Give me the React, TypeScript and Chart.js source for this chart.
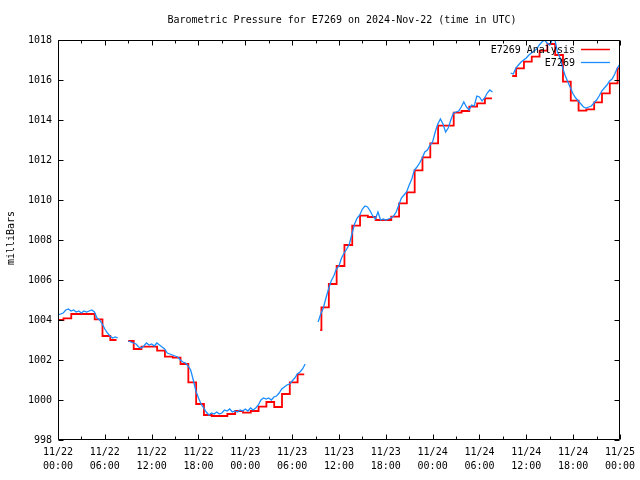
import React, { useEffect, useRef } from "react";
import { Chart, registerables } from "chart.js";

Chart.register(...registerables);

const TITLE = "Barometric Pressure for E7269 on 2024-Nov-22 (time in UTC)";
const Y_TITLE = "milliBars";
const ANALYSIS_LABEL = "E7269 Analysis";
const STATION_LABEL = "E7269";

const Y_MIN = 998;
const Y_MAX = 1018;
const Y_STEP = 2;
const X_MIN = 0; // hours since 2024-11-22 00:00 UTC
const X_MAX = 72;
const X_STEP = 6;
const X_TICK_LABELS: string[][] = [
  ["11/22", "00:00"], ["11/22", "06:00"], ["11/22", "12:00"], ["11/22", "18:00"],
  ["11/23", "00:00"], ["11/23", "06:00"], ["11/23", "12:00"], ["11/23", "18:00"],
  ["11/24", "00:00"], ["11/24", "06:00"], ["11/24", "12:00"], ["11/24", "18:00"],
  ["11/25", "00:00"],
];

// Analysis (hourly step values); null marks a gap in the record
const analysisHours = [
  0, 0.7, 1.7, 2.7, 3.7, 4.7, 5.7, 6.7, 7.5,
  8.3,
  9.0, 9.7, 10.7, 11.7, 12.7, 13.7, 14.7, 15.7, 16.7, 17.7, 18.7, 19.7, 20.7, 21.7, 22.7, 23.7, 24.7, 25.7, 26.7, 27.7, 28.7, 29.7, 30.7, 31.55,
  32.5,
  33.6, 33.75, 34.7, 35.7, 36.7, 37.7, 38.7, 39.7, 40.7, 41.7, 42.7, 43.7, 44.7, 45.7, 46.7, 47.7, 48.7, 49.7, 50.7, 51.7, 52.7, 53.7, 54.7, 55.6,
  57.0,
  58.2, 58.7, 59.7, 60.7, 61.7, 62.7, 63.7, 64.7, 65.7, 66.7, 67.7, 68.7, 69.7, 70.7, 71.7, 72.0,
];
const analysisValues: (number | null)[] = [
  1004.0, 1004.08, 1004.3, 1004.3, 1004.3, 1004.03, 1003.2, 1003.0, 1003.0,
  null,
  1002.95, 1002.55, 1002.67, 1002.67, 1002.47, 1002.17, 1002.12, 1001.8, 1000.88, 999.8, 999.25, 999.2, 999.2, 999.3, 999.45, 999.37, 999.45, 999.67, 999.9, 999.65, 1000.3, 1000.88, 1001.28, 1001.28,
  null,
  1003.5, 1004.63, 1005.8, 1006.7, 1007.75, 1008.72, 1009.22, 1009.15, 1009.0, 1009.0, 1009.17, 1009.83, 1010.38, 1011.48, 1012.13, 1012.83, 1013.72, 1013.72, 1014.37, 1014.45, 1014.67, 1014.83, 1015.08, 1015.08,
  null,
  1016.2, 1016.58, 1016.92, 1017.17, 1017.47, 1017.8, 1017.25, 1015.92, 1014.97, 1014.47, 1014.53, 1014.88, 1015.33, 1015.83, 1016.58, 1016.58,
];

// Station observations, one value every 20 minutes within each segment
const STATION_STEP_HOURS = 1 / 3;
const stationStart1 = 0;
const stationValues1 = [
  1004.25, 1004.3, 1004.35, 1004.5, 1004.55, 1004.45, 1004.5, 1004.4, 1004.45, 1004.35, 1004.45, 1004.4,
  1004.45, 1004.5, 1004.4, 1004.1, 1004.0, 1003.8, 1003.55, 1003.35, 1003.2, 1003.1, 1003.15, 1003.1,
];
const stationStart2 = 9.0;
const stationValues2 = [
  1002.95, 1002.9, 1002.85, 1002.8, 1002.65, 1002.6, 1002.7, 1002.85, 1002.75, 1002.8, 1002.7, 1002.85,
  1002.75, 1002.65, 1002.55, 1002.35, 1002.3, 1002.25, 1002.2, 1002.15, 1002.0, 1001.9, 1001.85, 1001.7,
  1001.5, 1001.0, 1000.45, 1000.1, 999.8, 999.6, 999.4, 999.25, 999.35, 999.3, 999.4, 999.3,
  999.35, 999.5, 999.45, 999.55, 999.4, 999.45, 999.4, 999.5, 999.45, 999.55, 999.45, 999.6,
  999.5, 999.6, 999.75, 1000.0, 1000.1, 1000.05, 1000.1, 1000.0, 1000.15, 1000.2, 1000.35, 1000.55,
  1000.65, 1000.75, 1000.8, 1000.95, 1001.1, 1001.3, 1001.4, 1001.55, 1001.8,
];
const stationStart3 = 33.33;
const stationValues3 = [
  1003.9, 1004.3, 1004.6, 1005.1, 1005.55, 1005.95, 1006.2, 1006.55, 1006.7, 1007.1, 1007.35, 1007.55,
  1007.8, 1008.3, 1008.8, 1009.1, 1009.25, 1009.55, 1009.7, 1009.65, 1009.45, 1009.2, 1009.05, 1009.4,
  1009.0, 1009.05, 1009.0, 1009.05, 1009.1, 1009.2, 1009.4, 1009.75, 1010.1, 1010.25, 1010.4, 1010.75,
  1011.05, 1011.5, 1011.65, 1011.85, 1012.1, 1012.4, 1012.5, 1012.75, 1012.9, 1013.4, 1013.8, 1014.05,
  1013.8, 1013.4, 1013.6, 1014.0, 1014.35, 1014.4, 1014.45, 1014.65, 1014.9, 1014.65, 1014.5, 1014.75,
  1014.7, 1015.2, 1015.15, 1014.95, 1015.1, 1015.35, 1015.5, 1015.4,
];
const stationStart4 = 58.0;
const stationValues4 = [
  1016.35, 1016.3, 1016.6, 1016.75, 1016.9, 1017.0, 1017.1, 1017.25, 1017.35, 1017.45, 1017.55, 1017.75,
  1017.9, 1018.0, 1017.85, 1017.75, 1018.0, 1018.0, 1017.4, 1017.1, 1016.6, 1016.2, 1015.9, 1015.6,
  1015.3, 1015.1, 1014.95, 1014.8, 1014.65, 1014.6, 1014.65, 1014.7, 1014.85, 1015.0, 1015.2, 1015.45,
  1015.6, 1015.75, 1015.95, 1016.05, 1016.3, 1016.6, 1016.8,
];

const RED = "#ff0000";
const BLUE = "#1a8cff";
const FONT_FAMILY = "'DejaVu Sans Mono', 'Liberation Mono', monospace";

function buildStation() {
  const segs: [number, number[]][] = [
    [stationStart1, stationValues1],
    [stationStart2, stationValues2],
    [stationStart3, stationValues3],
    [stationStart4, stationValues4],
  ];
  const pts: { x: number; y: number | null }[] = [];
  segs.forEach(([start, vals], si) => {
    vals.forEach((v, i) => pts.push({ x: start + i * STATION_STEP_HOURS, y: v }));
    if (si < segs.length - 1) {
      const next = segs[si + 1][0];
      pts.push({ x: (start + vals.length * STATION_STEP_HOURS + next) / 2, y: null });
    }
  });
  return pts;
}

const decorPlugin = {
  id: "decor",
  afterDatasetsDraw(chart: any) {
    const { ctx, chartArea } = chart;
    const { left, right, top, bottom } = chartArea;
    const xs = chart.scales.x;
    const ys = chart.scales.y;
    ctx.save();
    ctx.strokeStyle = "#000";
    ctx.lineWidth = 1;
    const L = Math.round(left) + 0.5;
    const R = Math.round(right) - 0.5;
    const T = Math.round(top) + 0.5;
    const B = Math.round(bottom) - 0.5;
    ctx.beginPath();
    ctx.rect(L, T, R - L, B - T);
    for (let v = Y_MIN; v <= Y_MAX; v += Y_STEP) {
      const py = Math.round(ys.getPixelForValue(v)) + 0.5;
      ctx.moveTo(L, py); ctx.lineTo(L + 5, py);
      ctx.moveTo(R, py); ctx.lineTo(R - 5, py);
    }
    for (let h = X_MIN; h <= X_MAX; h += X_STEP / 2) {
      const px = Math.round(xs.getPixelForValue(h)) + 0.5;
      const len = h % X_STEP === 0 ? 5 : 3;
      ctx.moveTo(px, B); ctx.lineTo(px, B - len);
      ctx.moveTo(px, T); ctx.lineTo(px, T + len);
    }
    ctx.stroke();
    ctx.restore();
  },
  afterDraw(chart: any) {
    const { ctx, chartArea } = chart;
    ctx.save();
    ctx.fillStyle = "#000";
    ctx.font = `10px ${FONT_FAMILY}`;
    ctx.textBaseline = "middle";
    ctx.textAlign = "center";
    ctx.fillText(TITLE, (chartArea.left + chartArea.right) / 2 + 3, 20);
    ctx.save();
    ctx.translate(11, 238);
    ctx.rotate(-Math.PI / 2);
    ctx.fillText(Y_TITLE, 0, 0);
    ctx.restore();
    const lx = chartArea.right - 45;
    ctx.textAlign = "right";
    ctx.fillText(ANALYSIS_LABEL, lx, 50);
    ctx.fillText(STATION_LABEL, lx, 63);
    ctx.lineWidth = 1.5;
    ctx.strokeStyle = RED;
    ctx.beginPath();
    ctx.moveTo(lx + 6, 49.5); ctx.lineTo(lx + 35, 49.5);
    ctx.stroke();
    ctx.lineWidth = 1.3;
    ctx.strokeStyle = BLUE;
    ctx.beginPath();
    ctx.moveTo(lx + 6, 62.5); ctx.lineTo(lx + 35, 62.5);
    ctx.stroke();
    ctx.restore();
  },
};

export default function App() {
  const ref = useRef<HTMLCanvasElement | null>(null);
  useEffect(() => {
    if (!ref.current) return;
    const analysisData = analysisHours.map((h, i) => ({ x: h, y: analysisValues[i] }));
    const stationData = buildStation();
    const chart = new Chart(ref.current, {
      type: "line",
      data: {
        datasets: [
          {
            label: STATION_LABEL,
            data: stationData as any,
            borderColor: BLUE,
            backgroundColor: BLUE,
            borderWidth: 1.3,
            pointRadius: 0,
            tension: 0,
            spanGaps: false,
            clip: 0,
          } as any,
          {
            label: ANALYSIS_LABEL,
            data: analysisData as any,
            borderColor: RED,
            backgroundColor: RED,
            borderWidth: 1.8,
            pointRadius: 0,
            stepped: "before",
            spanGaps: false,
            clip: 0,
          } as any,
        ],
      },
      options: {
        animation: false,
        responsive: false,
        devicePixelRatio: 1,
        layout: { padding: { top: 40, right: 20, left: 0, bottom: 0 } },
        plugins: {
          legend: { display: false },
          title: { display: false },
          tooltip: { enabled: false },
        },
        scales: {
          x: {
            type: "linear",
            min: X_MIN,
            max: X_MAX,
            grid: { display: false, drawTicks: false, tickLength: 0 },
            border: { display: false },
            afterBuildTicks: (scale: any) => {
              const t = [];
              for (let v = X_MIN; v <= X_MAX; v += X_STEP) t.push({ value: v });
              scale.ticks = t;
            },
            afterFit: (scale: any) => { scale.height = 40; },
            ticks: {
              autoSkip: false,
              maxRotation: 0,
              minRotation: 0,
              padding: 5,
              color: "#000",
              font: { family: FONT_FAMILY, size: 10, lineHeight: 1.4 },
              callback: (v: any) => X_TICK_LABELS[Math.round(Number(v) / X_STEP)],
            },
          },
          y: {
            type: "linear",
            min: Y_MIN,
            max: Y_MAX,
            grid: { display: false, drawTicks: false, tickLength: 0 },
            border: { display: false },
            afterFit: (scale: any) => { scale.width = 58; },
            ticks: {
              stepSize: Y_STEP,
              padding: 6,
              color: "#000",
              font: { family: FONT_FAMILY, size: 10 },
              callback: (v: any) => String(Math.round(Number(v))),
            },
          },
        },
      },
      plugins: [decorPlugin],
    });
    return () => chart.destroy();
  }, []);
  return (
    <div style={{ position: "absolute", left: 0, top: 0, width: 640, height: 480, background: "#fff" }}>
      <canvas ref={ref} width={640} height={480} style={{ display: "block" }} />
    </div>
  );
}
